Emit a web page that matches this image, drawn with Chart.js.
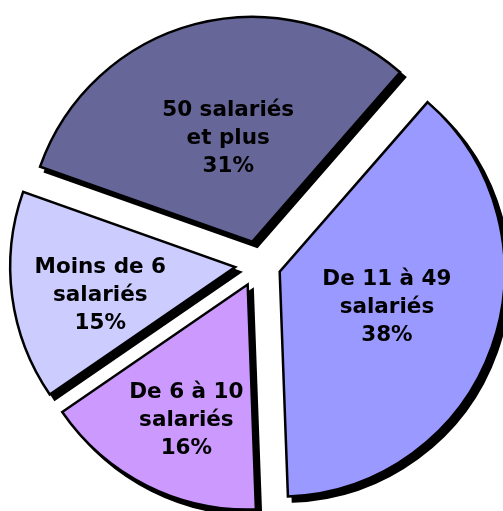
<!DOCTYPE html>
<html>
<head>
<meta charset="utf-8">
<script src="https://cdn.jsdelivr.net/npm/chart.js@4/dist/chart.umd.min.js"></script>
<style>
html,body{margin:0;padding:0;background:#fff;}
#wrap{width:503px;height:511px;}
</style>
</head>
<body>
<div id="wrap"><canvas id="c" width="503" height="511"></canvas></div>
<script>
// Data
const categories = [
  ["50 salariés", "et plus"],
  ["De 11 à 49", "salariés"],
  ["De 6 à 10", "salariés"],
  ["Moins de 6", "salariés"]
];
const values = [31, 38, 16, 15];
const colors = ["#666699", "#9999FF", "#CC99FF", "#CCCCFF"];

// Styling
const explode = 23;
const shadowOff = 5;
const labelFrac = [0.481, 0.5, 0.652, 0.609];
const labelTurn = [1.9, -1.9, -2.0, -2.6]; // degrees
const labelDy = [2, 2, 3, 4];
const fontSize = 21.5;
const lineH = 28;

function arcShift(arc) {
  const mid = (arc.startAngle + arc.endAngle) / 2;
  return [Math.cos(mid) * explode, Math.sin(mid) * explode];
}

const explodePlugin = {
  id: 'explodeShadow',
  beforeDatasetDraw(chart, args) {
    const ctx = chart.ctx;
    const far = 5000;
    // shadow pass (shape drawn off-canvas, only its shadow lands on canvas)
    args.meta.data.forEach((arc) => {
      const [dx, dy] = arcShift(arc);
      ctx.save();
      ctx.translate(dx - far, dy);
      ctx.shadowColor = '#000';
      ctx.shadowBlur = 0;
      ctx.shadowOffsetX = far + shadowOff;
      ctx.shadowOffsetY = shadowOff;
      arc.draw(ctx);
      ctx.restore();
    });
    // slices
    args.meta.data.forEach((arc) => {
      const [dx, dy] = arcShift(arc);
      ctx.save();
      ctx.translate(dx, dy);
      arc.draw(ctx);
      ctx.restore();
    });
    return false;
  },
  afterDatasetsDraw(chart) {
    const ctx = chart.ctx;
    const meta = chart.getDatasetMeta(0);
    ctx.save();
    ctx.font = 'bold ' + fontSize + 'px "DejaVu Sans", Verdana, sans-serif';
    ctx.fillStyle = '#000';
    ctx.textAlign = 'center';
    ctx.textBaseline = 'middle';
    meta.data.forEach((arc, i) => {
      const mid = (arc.startAngle + arc.endAngle) / 2;
      const [dx, dy] = arcShift(arc);
      const a = mid + labelTurn[i] * Math.PI / 180;
      const r = arc.outerRadius * labelFrac[i];
      const cx = arc.x + dx + Math.cos(a) * r;
      const cy = arc.y + dy + Math.sin(a) * r + labelDy[i];
      const lines = categories[i].concat([values[i] + '%']);
      const y0 = cy - (lines.length - 1) * lineH / 2;
      lines.forEach((t, j) => ctx.fillText(t, cx, y0 + j * lineH));
    });
    ctx.restore();
  }
};

new Chart(document.getElementById('c'), {
  type: 'pie',
  data: {
    labels: categories.map(l => l.join(' ')),
    datasets: [{
      data: values,
      backgroundColor: colors,
      borderColor: '#000',
      borderWidth: 2.5,
      borderJoinStyle: 'miter',
      hoverOffset: 0
    }]
  },
  options: {
    responsive: false,
    animation: false,
    rotation: -70.5,
    radius: 225,
    layout: { padding: { left: 13, right: 0, top: 17, bottom: 0 } },
    plugins: { legend: { display: false }, tooltip: { enabled: false } },
    events: []
  },
  plugins: [explodePlugin]
});
</script>
</body>
</html>
